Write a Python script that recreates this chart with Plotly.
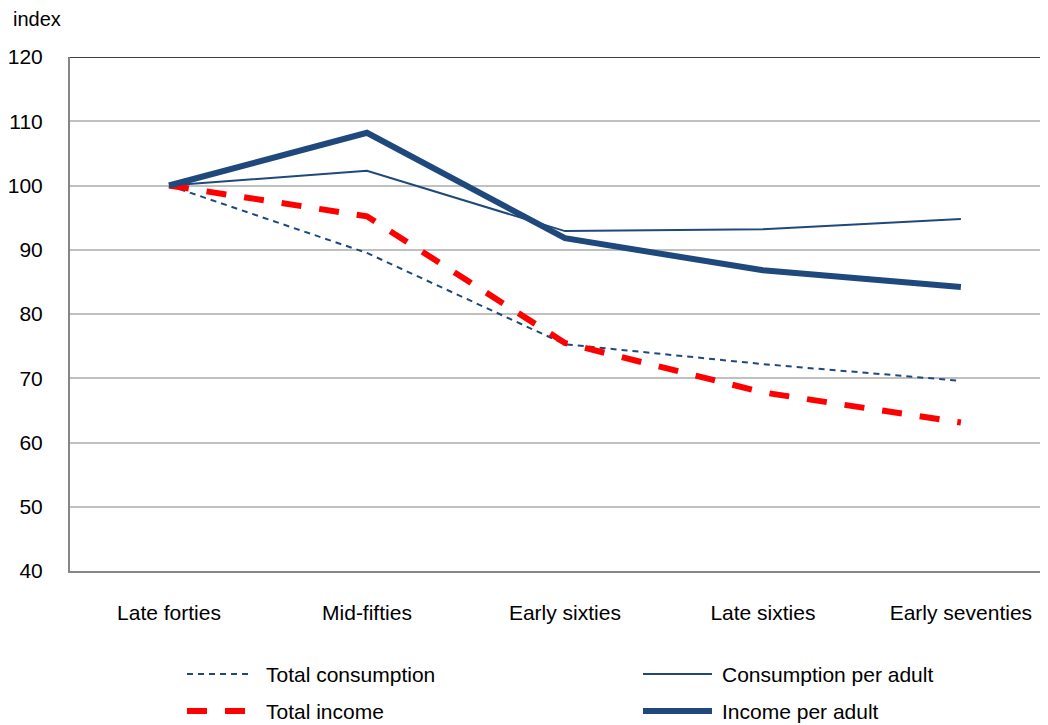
import plotly.graph_objects as go

categories = ["Late forties", "Mid-fifties", "Early sixties", "Late sixties", "Early seventies"]
total_consumption = [100, 89.5, 75.3, 72.2, 69.6]
consumption_per_adult = [100, 102.3, 92.9, 93.2, 94.8]
total_income = [100, 95.2, 75.5, 67.8, 63.1]
income_per_adult = [100, 108.2, 91.8, 86.8, 84.2]
y_ticks = [40, 50, 60, 70, 80, 90, 100, 110, 120]

NAVY = "#1F497D"
RED = "#FF0000"
FONT = "Liberation Sans, Arial, sans-serif"
FS = 21

fig = go.Figure()
x = list(range(len(categories)))
fig.add_trace(go.Scatter(x=x, y=consumption_per_adult, mode="lines", name="Consumption per adult",
                         line=dict(color=NAVY, width=2), showlegend=False))
fig.add_trace(go.Scatter(x=x, y=total_consumption, mode="lines", name="Total consumption",
                         line=dict(color=NAVY, width=2, dash="6px,5px"), showlegend=False))
fig.add_trace(go.Scatter(x=x, y=total_income, mode="lines", name="Total income",
                         line=dict(color=RED, width=6, dash="20px,18px"), showlegend=False))
fig.add_trace(go.Scatter(x=x, y=income_per_adult, mode="lines", name="Income per adult",
                         line=dict(color=NAVY, width=6), showlegend=False))

# top border line at 120
fig.add_shape(type="line", xref="paper", yref="y", x0=0, x1=1, y0=120, y1=120,
              line=dict(color="#000000", width=1.5), layer="above")

# page offset (browser body margin)
OFF = 8
W, H = 1048 - OFF, 725 - OFF
ml, mr, mt, mb = 70 - OFF, 0, 57 - OFF, 154
pw, ph = W - ml - mr, H - mt - mb
def px(xp):
    return (xp - OFF - ml) / pw
def py(yp):
    return (H - mb - (yp - OFF)) / ph

legend_items = [
    ("Total consumption", dict(color=NAVY, width=2, dash="6px,5px"), 187, 252, 264, 674),
    ("Consumption per adult", dict(color=NAVY, width=2), 643, 712, 720, 674),
    ("Total income", dict(color=RED, width=6, dash="20px,18px"), 187, 252, 264, 711),
    ("Income per adult", dict(color=NAVY, width=6), 643, 712, 720, 711),
]
for label, ln, x0, x1, tx, yy in legend_items:
    fig.add_shape(type="line", xref="paper", yref="paper", x0=px(x0), x1=px(x1),
                  y0=py(yy), y1=py(yy), line=ln)
    fig.add_annotation(xref="paper", yref="paper", x=px(tx), y=py(yy), text=label,
                       showarrow=False, xanchor="left", yanchor="middle",
                       font=dict(family=FONT, size=FS, color="#000000"))

fig.add_annotation(xref="paper", yref="paper", x=px(11), y=py(19), text="index",
                   showarrow=False, xanchor="left", yanchor="middle",
                   font=dict(family=FONT, size=FS - 1, color="#000000"))

fig.update_layout(
    width=W, height=H,
    margin=dict(l=ml, r=mr, t=mt, b=mb),
    paper_bgcolor="white", plot_bgcolor="white",
    font=dict(family=FONT, size=FS, color="#000000"),
    xaxis=dict(range=[-0.5, 4.44], tickmode="array", tickvals=x, ticktext=categories,
               showgrid=False, zeroline=False, showline=True, linecolor="#868686", linewidth=2,
               ticks="", ticklabelstandoff=22),
    yaxis=dict(range=[40, 120], tickmode="array", tickvals=y_ticks,
               showgrid=True, gridcolor="#C0C0C0", gridwidth=2, zeroline=False,
               showline=True, linecolor="#868686", linewidth=2, ticks="",
               ticklabelstandoff=21),
)

fig.write_html("out.html")
